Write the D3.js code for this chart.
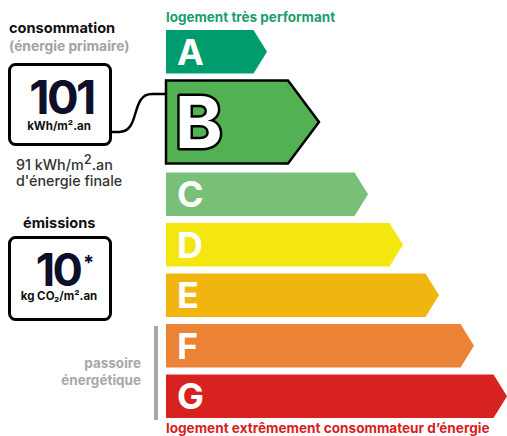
<!DOCTYPE html>
<html>
<head>
<meta charset="utf-8">
<script src="https://cdn.jsdelivr.net/npm/d3@7"></script>
<style>
  html, body { margin: 0; padding: 0; background: #fff; }
  svg { display: block; font-family: Inter, Roboto, "Liberation Sans", Arial, sans-serif; }
</style>
</head>
<body>
<svg id="dpe" width="507" height="436"></svg>
<script>
// Energy classes, their colours and the class of this dwelling
const classes = ["A", "B", "C", "D", "E", "F", "G"];
const classColors = ["#009c6d", "#52b153", "#78bf78", "#f4e70f", "#f0b50f", "#eb8235", "#d7221f"];
const selectedClass = "B";

// Figures of the dwelling
const primaryConsumption = 101;   // kWh/m².an, énergie primaire
const finalConsumption = 91;      // kWh/m².an, énergie finale
const emissions = 10;             // kg CO2/m².an

// Texts
const topLabel = "logement très performant";
const bottomLabel = "logement extrêmement consommateur d’énergie";
const passoireLines = ["passoire", "énergétique"];

const svg = d3.select("#dpe");

// Horizontal reach of each arrow tip, per class
const tipX = d3.scaleOrdinal().domain(classes).range([267, 319, 368, 403, 439, 474, 507]);
const barLeft = 166;
const rowH = 43.5, selH = 83, gap = 7;

// Vertical layout of the rows (selected row is taller)
let yCursor = 30;
const rows = classes.map((c, i) => {
  const sel = c === selectedClass;
  const h = sel ? selH : rowH;
  const r = { c, i, sel, y: yCursor, h, color: classColors[i] };
  yCursor += h + (sel ? gap + 2 : gap);
  return r;
});

const arrowPath = d => {
  const tip = d.sel ? 31 : 13.5;
  const xe = tipX(d.c), xr = xe - tip;
  const p = d3.path();
  p.moveTo(barLeft, d.y);
  p.lineTo(xr, d.y);
  p.lineTo(xe, d.y + d.h / 2);
  p.lineTo(xr, d.y + d.h);
  p.lineTo(barLeft, d.y + d.h);
  p.closePath();
  return p.toString();
};

const bars = svg.append("g").selectAll("g").data(rows).join("g");
bars.append("path")
  .attr("d", arrowPath)
  .attr("fill", d => d.color)
  .attr("stroke", d => d.sel ? "#000" : "none")
  .attr("stroke-width", d => d.sel ? 2.5 : 0)
  .attr("stroke-linejoin", "miter");

bars.append("text")
  .attr("x", d => d.sel ? 175 : 177)
  .attr("y", d => d.y + d.h / 2 + (d.sel ? 26 : 13))
  .attr("font-size", d => d.sel ? 72 : 36)
  .attr("font-weight", 700)
  .attr("fill", "#fff")
  .attr("stroke", d => d.sel ? "#000" : "none")
  .attr("stroke-width", d => d.sel ? 5 : 0)
  .attr("paint-order", "stroke")
  .attr("stroke-linejoin", "round")
  .text(d => d.c);

// Headline texts above and below the scale
svg.append("text").attr("x", 166).attr("y", 22)
  .attr("font-size", 13.5).attr("font-weight", 700).attr("fill", "#1a9e6c")
  .text(topLabel);
svg.append("text").attr("x", 166).attr("y", 433)
  .attr("font-size", 13.6).attr("font-weight", 700).attr("fill", "#d7221f")
  .text(bottomLabel);

// "passoire énergétique" marker beside F and G
const fRow = rows[5], gRow = rows[6];
svg.append("rect").attr("x", 154).attr("y", fRow.y + 2)
  .attr("width", 4).attr("height", gRow.y + gRow.h - fRow.y)
  .attr("fill", "#a8a8a8");
svg.append("text").attr("text-anchor", "end")
  .attr("font-size", 13.5).attr("font-weight", 700).attr("fill", "#a8a8a8")
  .selectAll("tspan").data(passoireLines).join("tspan")
  .attr("x", 141).attr("y", (d, i) => 368 + i * 16.5).text(d => d);

// Consumption block
svg.append("text").attr("x", 9).attr("y", 33)
  .attr("font-size", 14.6).attr("font-weight", 700).attr("fill", "#111")
  .text("consommation");
svg.append("text").attr("x", 9).attr("y", 51)
  .attr("font-size", 13.8).attr("font-weight", 700).attr("fill", "#a3a3a3")
  .text("(énergie primaire)");

svg.append("rect").attr("x", 9.5).attr("y", 64.5).attr("width", 101).attr("height", 80)
  .attr("rx", 6).attr("fill", "#fff").attr("stroke", "#000").attr("stroke-width", 3);
svg.append("text").attr("x", 61.5).attr("y", 114).attr("text-anchor", "middle")
  .attr("font-size", 47).attr("font-weight", 700).attr("fill", "#0e0f2b")
  .attr("letter-spacing", -2.5)
  .text(primaryConsumption);
svg.append("text").attr("x", 59).attr("y", 130).attr("text-anchor", "middle")
  .attr("font-size", 11.5).attr("font-weight", 700).attr("fill", "#111")
  .text("kWh/m².an");

// Connector from the value box to the selected class
const conn = d3.path();
conn.moveTo(110, 132);
conn.lineTo(119, 132);
conn.bezierCurveTo(141, 132, 130, 94, 152, 94);
conn.lineTo(barLeft, 94);
svg.append("path").attr("d", conn.toString())
  .attr("fill", "none").attr("stroke", "#000").attr("stroke-width", 2.5);

const f1 = svg.append("text").attr("x", 16).attr("y", 170)
  .attr("font-size", 14.3).attr("font-weight", 500).attr("fill", "#333");
f1.append("tspan").text(finalConsumption + " kWh/m");
f1.append("tspan").attr("font-size", 13).attr("dy", -6).text("2");
f1.append("tspan").attr("dy", 6).text(".an");
svg.append("text").attr("x", 16).attr("y", 186)
  .attr("font-size", 14.3).attr("font-weight", 500).attr("fill", "#333")
  .text("d'énergie finale");

// Emissions block
svg.append("text").attr("x", 23).attr("y", 228)
  .attr("font-size", 14.6).attr("font-weight", 700).attr("fill", "#111")
  .text("émissions");
svg.append("rect").attr("x", 9.5).attr("y", 237.5).attr("width", 101).attr("height", 82)
  .attr("rx", 6).attr("fill", "#fff").attr("stroke", "#000").attr("stroke-width", 3);
svg.append("text").attr("x", 58).attr("y", 286).attr("text-anchor", "middle")
  .attr("font-size", 45).attr("font-weight", 700).attr("fill", "#0e0f2b")
  .attr("letter-spacing", -2.5)
  .text(emissions);
svg.append("text").attr("x", 83).attr("y", 270)
  .attr("font-size", 20).attr("font-weight", 700).attr("fill", "#0e0f2b")
  .text("*");
svg.append("text").attr("x", 59).attr("y", 300).attr("text-anchor", "middle")
  .attr("font-size", 11.5).attr("font-weight", 700).attr("fill", "#111")
  .text("kg CO₂/m².an");
</script>
</body>
</html>
